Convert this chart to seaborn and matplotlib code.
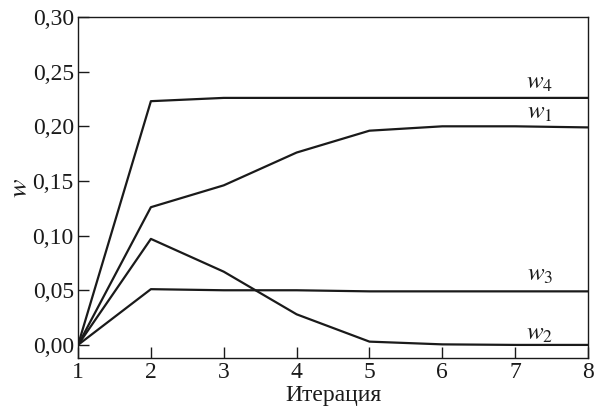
import matplotlib
matplotlib.use("Agg")
import matplotlib.pyplot as plt
import seaborn as sns
import pandas as pd

iterations = [1, 2, 3, 4, 5, 6, 7, 8]
w1 = [0.0, 0.126, 0.146, 0.176, 0.196, 0.200, 0.200, 0.199]
w2 = [0.0, 0.097, 0.067, 0.028, 0.003, 0.0005, 0.0, 0.0]
w3 = [0.0, 0.051, 0.050, 0.050, 0.049, 0.049, 0.049, 0.049]
w4 = [0.0, 0.223, 0.226, 0.226, 0.226, 0.226, 0.226, 0.226]

series_names = ["w1", "w2", "w3", "w4"]
series_labels = ["$w_1$", "$w_2$", "$w_3$", "$w_4$"]
label_x = [7.34, 7.34, 7.34, 7.34]
label_y = [0.212, 0.010, 0.064, 0.2395]

yticks = [0.00, 0.05, 0.10, 0.15, 0.20, 0.25, 0.30]
ytick_labels = ["0,00", "0,05", "0,10", "0,15", "0,20", "0,25", "0,30"]
xticks = [1, 2, 3, 4, 5, 6, 7, 8]

sns.set_style("ticks")
plt.rcParams["font.family"] = ["Liberation Serif", "DejaVu Serif"]
plt.rcParams["mathtext.fontset"] = "stix"

df = pd.DataFrame({
    "iter": iterations * 4,
    "w": w1 + w2 + w3 + w4,
    "series": sum([[n] * len(iterations) for n in series_names], []),
})

fig = plt.figure(figsize=(5.97, 4.12), dpi=100)
ax = fig.add_axes([0.1307, 0.131, 0.8543, 0.8277])

sns.lineplot(data=df, x="iter", y="w", hue="series",
             palette=["#1a1a1a"] * 4, linewidth=1.6, legend=False, ax=ax)

for lbl, lx, ly in zip(series_labels, label_x, label_y):
    ax.text(lx, ly, lbl, fontsize=18, ha="center", va="center", color="#1a1a1a")

ax.set_xlim(1, 8)
ax.set_ylim(-0.012, 0.30)
ax.set_xticks(xticks)
ax.set_xticklabels([str(v) for v in xticks])
ax.set_yticks(yticks)
ax.set_yticklabels(ytick_labels)
ax.tick_params(direction="in", length=8, width=1, labelsize=17, colors="#1a1a1a", pad=3)
ax.set_xlabel("Итерация", fontsize=17, labelpad=1, color="#1a1a1a")
ax.set_ylabel("$w$", fontsize=20, labelpad=0, color="#1a1a1a")
for s in ax.spines.values():
    s.set_linewidth(1.0)
    s.set_color("#1a1a1a")

fig.savefig("out.png", dpi=100)
